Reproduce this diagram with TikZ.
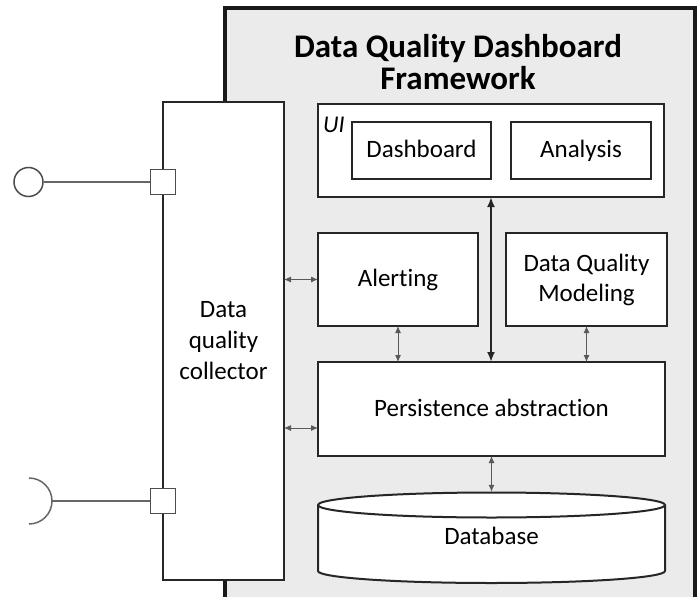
\documentclass[tikz,border=0pt]{standalone}
\usepackage{fontspec}
\setmainfont[Ligatures=NoCommon]{Carlito}
\usetikzlibrary{arrows.meta,positioning}
\tikzset{every node/.style={align=center}, >={Latex[length=7pt,width=6pt]},
  blk/.style={draw=black!85, fill=white, line width=2pt, inner sep=0pt, outer sep=0pt,
    font=\fontsize{25}{30}\selectfont},
  onel/.style={text height=18pt, text depth=4pt},
  link/.style={<->, draw=black!65, line width=1pt},
  biglink/.style={<->, draw=black!85, line width=2pt, >={Latex[length=10pt,width=8pt]}},
  port/.style={draw=black!70, fill=white, line width=1.5pt, minimum size=25pt, inner sep=0pt},
  wire/.style={draw=black!60, line width=1.5pt}}

\begin{document}
\begin{tikzpicture}[x=1pt, y=-1pt]
\useasboundingbox (0,0) rectangle (699,597);
\clip (0,0) rectangle (699,597);
% framework
\fill[black!8] (225,8) rectangle (695,620);
\draw[line width=3.5pt, black!90] (225,620) -- (225,8) -- (695,8) -- (695,620);
\node[font=\bfseries\fontsize{33}{32}\selectfont] (title) at (458,62) {Data Quality Dashboard\\Framework};
% ui
\node[blk, minimum width=346pt, minimum height=93pt] (ui) at (491,150.5) {};
\node[blk, onel, minimum width=139pt, minimum height=57pt] (dash) at (421.5,150.5) {Dashboard};
\node[blk, onel, minimum width=140pt, minimum height=57pt, right=20pt of dash] (anal) {Analysis};
\node[anchor=base west, inner sep=0pt, font=\itshape\fontsize{24}{29}\selectfont] (uilbl) at (323,132) {UI};
% services
\node[blk, onel, minimum width=160pt, minimum height=93pt] (alert) at (398,279.5) {Alerting};
\node[blk, minimum width=161pt, minimum height=93pt] (dqm) at (586.5,279.5) {Data Quality\\Modeling};
\node[blk, onel, minimum width=347pt, minimum height=94pt] (pers) at (491.5,409) {Persistence abstraction};
% database
\draw[line width=2pt, black!85, fill=white] (318,505) -- (318,571)
  arc[start angle=180, end angle=360, x radius=173.5pt, y radius=12pt] -- (665,505)
  arc[start angle=0, end angle=180, x radius=173.5pt, y radius=12.5pt] -- cycle;
\draw[line width=2pt, black!85] (318,505) arc[start angle=180, end angle=360, x radius=173.5pt, y radius=12.5pt];
\node[onel, minimum width=347pt, minimum height=91pt, inner sep=0pt, font=\fontsize{25}{30}\selectfont] (db) at (491.5,537.5) {Database};
% collector
\node[blk, minimum width=121pt, minimum height=478pt, font=\fontsize{25}{31}\selectfont] (coll) at (223.5,341) {Data\\quality\\collector};
\node[port] (p1) at (163,182) {};
\node[port] (p2) at (163,501) {};
\node[circle, draw=black!70, line width=1.5pt, minimum size=29pt, inner sep=0pt] (prov) at (28.5,182) {};
\coordinate (req) at (52,501);
\draw[wire] (prov) -- (p1);
\draw[wire] (req) -- (p2);
\draw[wire] (req) ++(-23pt,23pt) arc[start angle=90, end angle=-90, radius=23pt];
% connectors
\coordinate (pin) at ([yshift=-19pt]pers.west);
\draw[link] (coll.east |- alert.west) -- (alert.west);
\draw[link] (coll.east |- pin) -- (pin);
\draw[biglink] (ui.south) -- (ui.south |- pers.north);
\draw[link] (alert.south) -- (alert.south |- pers.north);
\draw[link] (dqm.south) -- (dqm.south |- pers.north);
\draw[link] (pers.south) -- (db.north);
\end{tikzpicture}
\end{document}
